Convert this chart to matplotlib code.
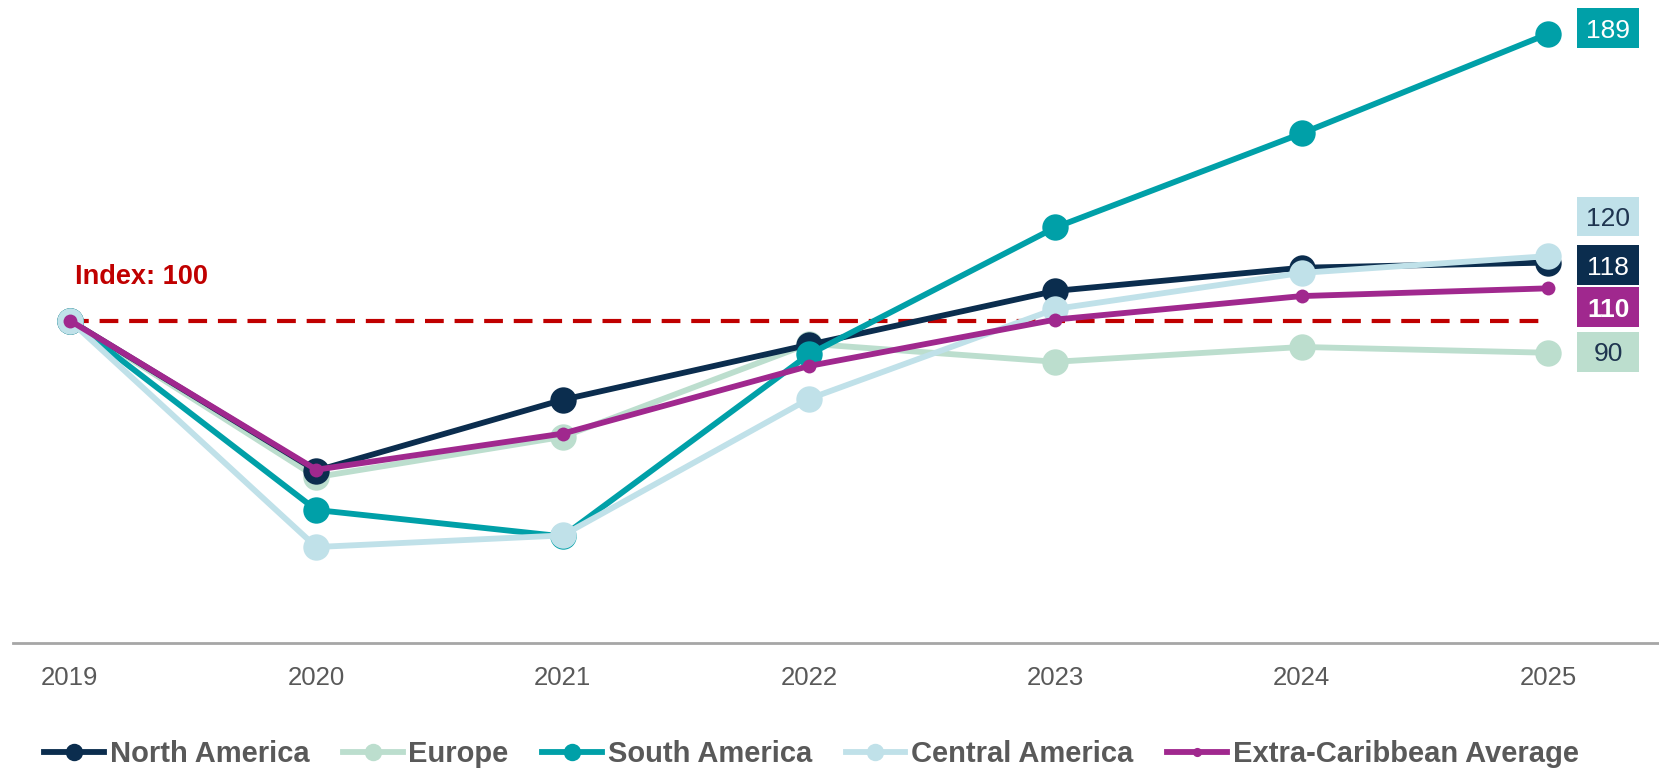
import matplotlib
matplotlib.use("Agg")
import matplotlib.pyplot as plt
from matplotlib.patches import Rectangle

plt.rcParams['font.family'] = ['Liberation Sans', 'DejaVu Sans']

years = ["2019", "2020", "2021", "2022", "2023", "2024", "2025"]

north_america = [100, 53.4, 75.4, 92.5, 109.2, 116.4, 118]
europe = [100, 51.4, 63.9, 92.8, 87.2, 91.8, 90]
south_america = [100, 41.2, 33.0, 89.5, 128.9, 158.1, 189]
central_america = [100, 29.7, 33.3, 75.7, 103.6, 114.8, 120]
extra_caribbean = [100, 53.7, 64.9, 85.9, 100.3, 107.6, 110]
index_base = 100

series_names = ["North America", "Europe", "South America", "Central America",
                "Extra-Caribbean Average"]
series_values = [north_america, europe, south_america, central_america, extra_caribbean]
series_colors = ["#0B2D4E", "#BCDECE", "#00A0A8", "#C0E1E9", "#A0288E"]
label_text_colors = ["white", "#1F3550", "white", "#1F3550", "white"]
label_weights = ["normal", "normal", "normal", "normal", "bold"]
marker_sizes = [19, 19, 19, 19, 10]
z_orders = [4, 3, 5, 6, 7]
# vertical shift (data units) of the end-label boxes so they do not collide
label_shift = [-0.9, 0.3, 1.8, 12.3, -5.8]

fig = plt.figure(figsize=(16.59, 7.71), dpi=100)
ax = fig.add_axes([0.008, 0.1664, 0.992, 0.8336])

x = list(range(len(years)))

ax.plot([x[0], x[-1]], [index_base, index_base], color="#C00000", lw=3.0,
        dashes=(4.5, 2.6), zorder=2)
ax.text(0.02, 113.5, f"Index: {index_base}", color="#C00000", fontsize=19.5,
        fontweight="bold", ha="left", va="center")

handles = []
for name, vals, col, ms, zo in zip(series_names, series_values, series_colors,
                                   marker_sizes, z_orders):
    h, = ax.plot(x, vals, color=col, lw=4.2, marker="o", markersize=ms,
                 markeredgewidth=0, label=name, zorder=zo, clip_on=False)
    handles.append(h)

# end-of-line value boxes
box_dx = 0.244   # box centre to the right of the last point
box_w = 0.252
box_h = 12.4
for vals, col, tcol, fw, dy in zip(series_values, series_colors, label_text_colors,
                                   label_weights, label_shift):
    cx = x[-1] + box_dx
    cy = vals[-1] + dy
    ax.add_patch(Rectangle((cx - box_w / 2, cy - box_h / 2), box_w, box_h,
                           facecolor=col, edgecolor="none", zorder=10,
                           clip_on=False))
    ax.text(cx, cy, f"{vals[-1]:.0f}", ha="center", va="center_baseline",
            fontsize=19, fontweight=fw, color=tcol, zorder=11)

ax.set_xlim(-0.23, 6.45)
ax.set_ylim(0, 199.5)
ax.set_xticks(x)
ax.set_xticklabels(years, fontsize=18.5, color="#595959")
ax.tick_params(axis="x", length=0, pad=17)
ax.set_yticks([])
for s in ["top", "right", "left"]:
    ax.spines[s].set_visible(False)
ax.spines["bottom"].set_color("#A6A6A6")
ax.spines["bottom"].set_linewidth(2)

leg = fig.legend(handles=handles, loc="center", bbox_to_anchor=(0.489, 0.022),
                 ncol=5, frameon=False, handlelength=2.05, handletextpad=0.2,
                 columnspacing=1.15, markerscale=0.66,
                 prop=dict(size=21, weight="bold"))
for t in leg.get_texts():
    t.set_color("#595959")

fig.savefig("out.png", dpi=100)
